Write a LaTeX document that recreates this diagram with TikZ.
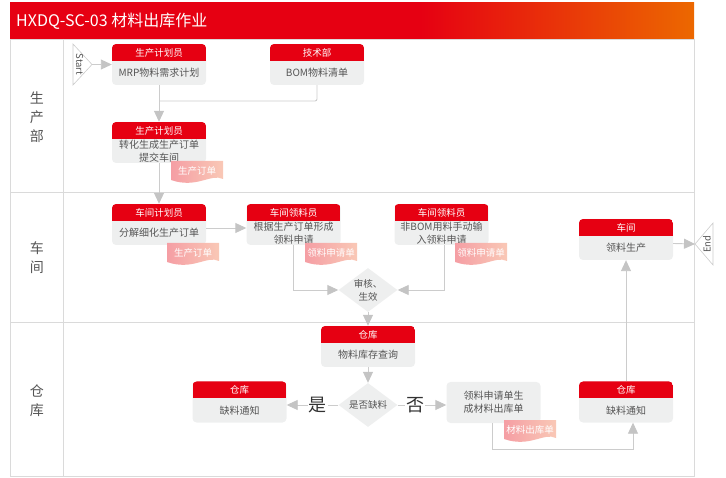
\documentclass[tikz,border=0pt]{standalone}
\usepackage{fontspec}
\usepackage{tikz}
\usetikzlibrary{positioning,calc}
\usetikzlibrary{arrows.meta,shapes.geometric}
\newfontfamily\cjk{Noto Sans CJK SC}
\definecolor{HdrRed}{RGB}{230,0,18}
\definecolor{TitleOrange}{RGB}{236,104,0}
\definecolor{BodyGray}{RGB}{238,239,239}
\definecolor{ConnGray}{RGB}{204,204,204}
\definecolor{TipGray}{RGB}{196,196,196}
\definecolor{FrameGray}{RGB}{218,218,218}
\definecolor{TextGray}{RGB}{85,85,85}
\definecolor{TextDark}{RGB}{50,50,50}
\definecolor{DocPink}{RGB}{245,158,164}
\definecolor{DocPeach}{RGB}{249,200,182}
\pgfdeclarehorizontalshading{titlebar}{100bp}{color(0bp)=(HdrRed); color(25bp)=(HdrRed); color(55bp)=(HdrRed); color(75bp)=(TitleOrange); color(100bp)=(TitleOrange)}
\tikzset{
	box/.style={rounded corners=4pt,fill=BodyGray,minimum width=94pt,minimum height=41pt,inner sep=0pt,
		path picture={\fill[HdrRed,sharp corners] (path picture bounding box.north west) rectangle ([yshift=-17pt]path picture bounding box.north east);}},
	plainbox/.style={rounded corners=4pt,fill=BodyGray,minimum width=94pt,minimum height=41pt,inner sep=0pt,
		text=TextGray,font=\cjk\fontsize{10}{13}\selectfont,align=center},
	hd/.style={text=white,font=\cjk\fontsize{9.5}{11}\selectfont,inner sep=0pt},
	txt/.style={text=TextGray,font=\cjk\fontsize{10}{13}\selectfont,align=center,inner sep=0pt},
	decision/.style={diamond,fill=BodyGray,shape aspect=1.34,inner sep=0pt,minimum width=59pt,minimum height=44pt,
		text=TextGray,font=\cjk\fontsize{9.5}{13}\selectfont,align=center},
	doctext/.style={text=white,font=\cjk\fontsize{9.5}{11}\selectfont,inner sep=0pt},
	conn/.style={draw=ConnGray,line width=0.9pt},
	flow/.style={conn,-{Triangle[length=11pt,width=10pt,fill=TipGray,color=TipGray]}},
	term/.style={draw=ConnGray,fill=white,line width=0.6pt},
	termtext/.style={text=TextGray,font=\cjk\fontsize{9.5}{10}\selectfont,inner sep=0pt},
	lane/.style={text=TextGray,font=\cjk\fontsize{14}{19}\selectfont,align=center},
	yesno/.style={fill=white,text=TextDark,font=\cjk\fontsize{18}{18}\selectfont,inner sep=1pt},
	frame/.style={draw=FrameGray,line width=0.8pt},
}
\begin{document}
\begin{tikzpicture}[x=1pt,y=-1pt]
	\useasboundingbox (0,0) rectangle (726,478);
	\shade[shading=titlebar] (10,3) rectangle (694,39);
	\node[anchor=west,text=white,font=\cjk\fontsize{16}{17}\selectfont,inner sep=0pt] (ttl) at (16,21) {HXDQ-SC-03 材料出库作业};
	\draw[frame] (10,39) rectangle (694,476);
	\draw[frame] (63,39) -- (63,476);
	\draw[frame] (10,192) -- (694,192);
	\draw[frame] (10,322) -- (694,322);
	\foreach \n/\y/\t in {scb/117/{生\\产\\部},cjl/258/{车\\间},ckl/401/{仓\\库}}
	\node[lane] (\n) at (37,\y) {\t};
	\draw[term] (73,44) -- (92,64.5) -- (73,85) -- cycle;
	\node[termtext,rotate=-90] (start) at (79.5,64.5) {Start};
	\coordinate (st) at (92,64.5);
	\draw[term] (713,223) -- (695,244) -- (713,265) -- cycle;
	\node[termtext,rotate=90] (end) at (707,244) {End};
	\coordinate (en) at (695,244);
	\foreach \n/\x/\y/\h/\t in {mrp/159/64.5/生产计划员/MRP物料需求计划,
		bom/317/64.5/技术部/BOM物料清单,
		scdd/159/142.5/生产计划员/{转化生成生产订单\\提交车间},
		fjdd/159/224.5/车间计划员/分解细化生产订单,
		lysq/293.5/224.5/车间领料员/{根据生产订单形成\\领料申请},
		fbom/441.5/224.5/车间领料员/{非BOM用料手动输\\入领料申请},
		lysc/626/239.5/车间/领料生产,
		kccx/368/346.5/仓库/物料库存查询,
		qlzs/239.5/402/仓库/缺料通知,
		qlyy/626/402/仓库/缺料通知}
	{
		\node[box] (\n) at (\x,\y) {};
		\node[hd] (\n-h) at ([yshift=12pt]\n.center) {\h};
		\node[txt] (\n-t) at ([yshift=-8.5pt]\n.center) {\t};
	}
	\node[plainbox] (ckd) at (493.5,402.5) {领料申请单生\\成材料出库单};
	\node[decision] (sh) at (368,290) {审核、\\生效};
	\node[decision] (qd) at (368,405) {是否缺料};
	\foreach \n/\x/\y/\t in {dd1/171/161/生产订单,dd2/167/243/生产订单,sq1/305/243/领料申请单,sq2/455/243/领料申请单,ck1/504/420/材料出库单}
	{
		\begin{scope}[shift={(\x,\y)}]
			\shade[left color=DocPink,right color=DocPeach] (0,0) -- (52,0) -- (52,18) .. controls (40,12) and (26,28) .. (0,19) -- cycle;
			\node[doctext] (\n) at (26,9.5) {\t};
		\end{scope}
	}
	\coordinate (jn) at (159,101);
	\draw[flow] (st) -- (mrp);
	\draw[flow] (mrp) -- (scdd);
	\draw[conn,rounded corners=2pt] (bom.south) |- (jn);
	\draw[flow] (scdd) -- (fjdd);
	\draw[flow] ([yshift=-3.5pt]fjdd.east) -- ([yshift=-3.5pt]lysq.west);
	\draw[flow] (lysq.south) |- (sh.west);
	\draw[flow] ([xshift=2.5pt]fbom.south) |- (sh.east);
	\draw[flow] (sh) -- (kccx);
	\draw[flow] (kccx) -- (qd);
	\draw[flow] (qd.west) -- node[yesno,pos=0.4] (yes) {是} (qd.west -| qlzs.east);
	\draw[flow] (qd.east) -- node[yesno,pos=0.36] (no) {否} (qd.east -| ckd.west);
	\draw[flow] ([xshift=-1.5pt]ckd.south) -- ++(0,26) -| ([xshift=7pt]qlyy.south);
	\draw[flow] (qlyy) -- (lysc);
	\draw[flow] ([yshift=-4pt]lysc.east) -- (en);
\end{tikzpicture}
\end{document}
